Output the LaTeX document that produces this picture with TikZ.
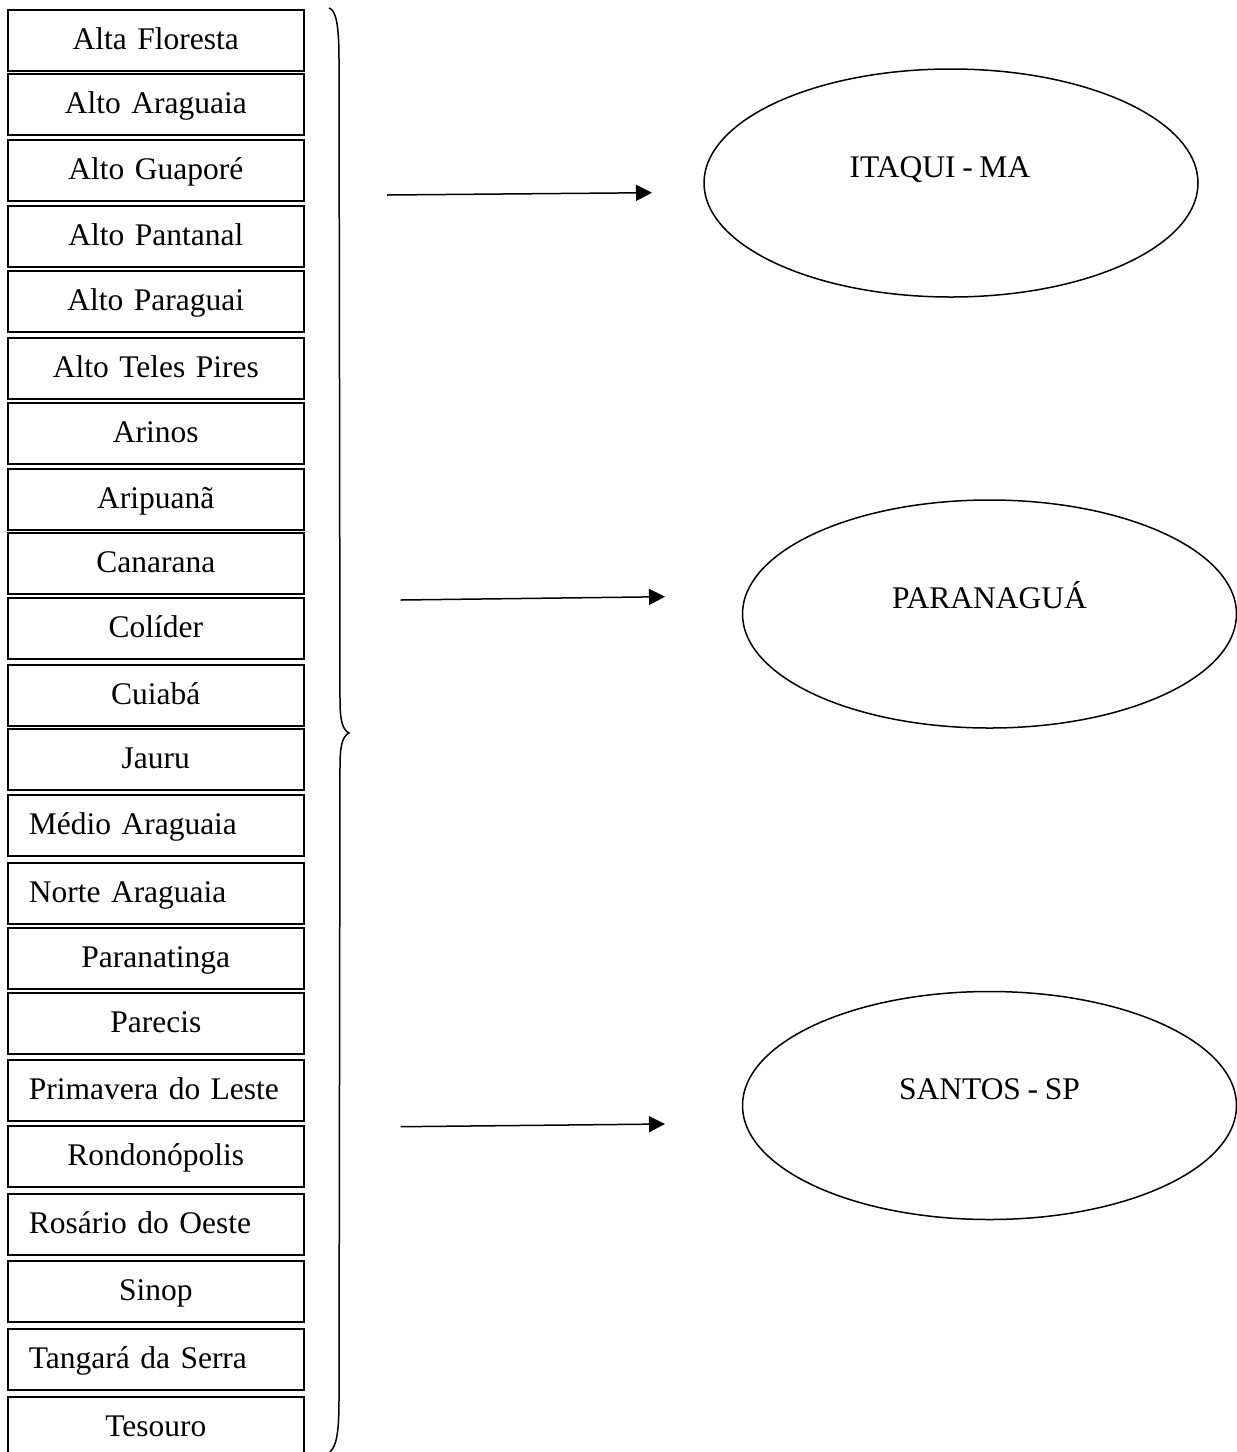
\documentclass[tikz,border=0pt]{standalone}
\usepackage{fontspec}
\setmainfont[WordSpace=0.85]{Liberation Serif}
\usetikzlibrary{shapes.geometric,arrows.meta}
\tikzset{
  txt/.style={font=\fontsize{31.5}{38}\selectfont},
  cbox/.style={draw, line width=1.6pt, rectangle, anchor=north west,
    minimum width=296pt, minimum height=61pt, inner sep=0pt,
    text width=296pt, align=center, text height=22pt, text depth=4pt, txt},
  lbox/.style={cbox, align=left, execute at begin node={\hspace*{21pt}}},
  port/.style={ellipse, draw, line width=1.5pt, minimum width=494pt,
    minimum height=228pt, inner sep=0pt, text height=22pt, text depth=34pt, txt},
  conn/.style={line width=1.5pt, -{Triangle[length=16pt,width=16pt]}},
  brace/.style={line width=1.5pt}
}
\begin{document}
\begin{tikzpicture}[x=1pt,y=-1pt]
\useasboundingbox (0,0) rectangle (1237,1452);
\node[cbox] (b1)  at (7,9)    {Alta Floresta};
\node[cbox] (b2)  at (7,73)   {Alto Araguaia};
\node[cbox] (b3)  at (7,139)  {Alto Guaporé};
\node[cbox] (b4)  at (7,205)  {Alto Pantanal};
\node[cbox] (b5)  at (7,270)  {Alto Paraguai};
\node[cbox] (b6)  at (7,337)  {Alto Teles Pires};
\node[cbox] (b7)  at (7,402)  {Arinos};
\node[cbox] (b8)  at (7,468)  {Aripuanã};
\node[cbox] (b9)  at (7,532)  {Canarana};
\node[cbox] (b10) at (7,597)  {Colíder};
\node[cbox] (b11) at (7,664)  {Cuiabá};
\node[cbox] (b12) at (7,728)  {Jauru};
\node[lbox] (b13) at (7,794)  {Médio Araguaia};
\node[lbox] (b14) at (7,862)  {Norte Araguaia};
\node[cbox] (b15) at (7,927)  {Paranatinga};
\node[cbox] (b16) at (7,992)  {Parecis};
\node[lbox] (b17) at (7,1059) {Primavera do Leste};
\node[cbox] (b18) at (7,1125) {Rondonópolis};
\node[lbox] (b19) at (7,1193) {Rosário do Oeste};
\node[cbox] (b20) at (7,1260) {Sinop};
\node[lbox] (b21) at (7,1328) {Tangará da Serra};
\node[cbox] (b22) at (7,1396) {Tesouro};
% brace
\draw[brace] (329,8) .. controls (336,10) and (339,25) .. (339,60)
  -- (340,700) .. controls (340,722) and (343,730) .. (349,733)
  .. controls (343,736) and (340,744) .. (340,766)
  -- (339,1400) .. controls (339,1435) and (336,1446) .. (330,1452);
% ports
\node[port] (itaqui) at (951,183) {ITAQUI - MA\hspace*{22pt}};
\node[port] (paranagua) at (989.5,614) {PARANAGUÁ};
\node[port] (santos) at (989.5,1105.5) {SANTOS - SP};
% arrows
\coordinate (a1s) at (387,195);   \coordinate (a1e) at (652,192.7);
\coordinate (a2s) at (400.7,600); \coordinate (a2e) at (665,596.7);
\coordinate (a3s) at (400.7,1126.7); \coordinate (a3e) at (665,1124);
\draw[conn] (a1s) -- (a1e);
\draw[conn] (a2s) -- (a2e);
\draw[conn] (a3s) -- (a3e);
\end{tikzpicture}
\end{document}
